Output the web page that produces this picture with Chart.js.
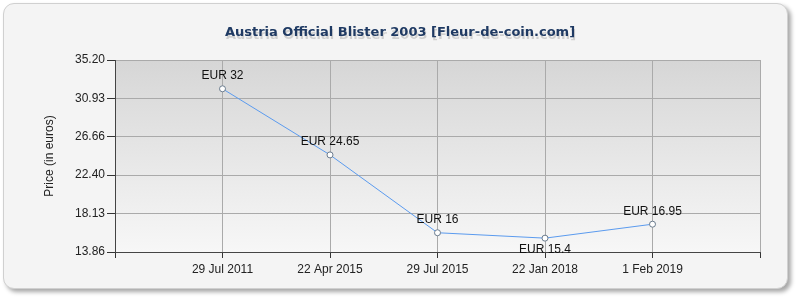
<!DOCTYPE html>
<html>
<head>
<meta charset="utf-8">
<script src="https://cdn.jsdelivr.net/npm/chart.js@4"></script>
<style>
  html, body { margin:0; padding:0; background:#fff; }
  #wrap { position:relative; width:800px; height:300px; }
  #panel { position:absolute; left:3px; top:3px; width:783px; height:284px;
    border:1px solid #d0d0d0; border-radius:11px; background:#f4f4f4;
    box-shadow:3px 3px 4px rgba(0,0,0,0.35); }
  #c { position:absolute; left:0; top:0; }
</style>
</head>
<body>
<div id="wrap">
  <div id="panel"></div>
  <canvas id="c" width="800" height="300"></canvas>
</div>
<script>
const titleText = 'Austria Official Blister 2003 [Fleur-de-coin.com]';
const yTitle = 'Price (in euros)';
// blank slots at both ends of the axis
const categories = ['', '29 Jul 2011', '22 Apr 2015', '29 Jul 2015', '22 Jan 2018', '1 Feb 2019', ''];
const prices = [null, 32, 24.65, 16, 15.4, 16.95, null];
const priceLabels = ['', 'EUR 32', 'EUR 24.65', 'EUR 16', 'EUR 15.4', 'EUR 16.95', ''];
const labelBelow = [false, false, false, false, true, false, false];
const yTicks = [13.86, 18.13, 22.40, 26.66, 30.93, 35.20];

const font = '"Liberation Sans", Arial, sans-serif';

const decor = {
  id: 'decor',
  beforeDraw(chart) {
    const { ctx, chartArea: a } = chart;
    const g = ctx.createLinearGradient(0, a.top, 0, a.bottom);
    g.addColorStop(0, '#d6d6d6');
    g.addColorStop(1, '#f7f7f7');
    ctx.save();
    ctx.fillStyle = g;
    ctx.fillRect(a.left, a.top, a.right - a.left, a.bottom - a.top);
    ctx.restore();
  },
  afterDraw(chart) {
    const { ctx, chartArea: a } = chart;
    ctx.save();
    ctx.font = 'bold 13px "DejaVu Sans", Verdana, sans-serif';
    ctx.textAlign = 'center';
    ctx.textBaseline = 'middle';
    ctx.fillStyle = 'rgba(0,0,0,0.15)';
    ctx.fillText(titleText, 401, 36);
    ctx.fillStyle = '#1f3a63';
    ctx.fillText(titleText, 400, 33);

    ctx.font = '12px ' + font;
    ctx.fillStyle = '#222';
    ctx.translate(50, (a.top + a.bottom) / 2);
    ctx.rotate(-Math.PI / 2);
    ctx.fillText(yTitle, 0, 0);
    ctx.restore();

    const meta = chart.getDatasetMeta(0);
    ctx.save();
    ctx.font = '12px ' + font;
    ctx.fillStyle = '#111';
    ctx.textAlign = 'center';
    ctx.textBaseline = 'middle';
    meta.data.forEach((p, i) => {
      if (prices[i] == null) return;
      ctx.fillText(priceLabels[i], p.x, labelBelow[i] ? p.y + 12 : p.y - 13);
    });
    ctx.restore();
  }
};

new Chart(document.getElementById('c'), {
  type: 'line',
  data: {
    labels: categories,
    datasets: [{
      data: prices,
      borderColor: '#5b9bef',
      borderWidth: 1,
      pointBackgroundColor: '#ffffff',
      pointBorderColor: '#6b7c8e',
      pointBorderWidth: 1,
      pointRadius: 3,
      tension: 0,
      spanGaps: false
    }]
  },
  options: {
    responsive: false,
    animation: false,
    layout: { padding: { top: 60, right: 40, left: 0, bottom: 0 } },
    plugins: { legend: { display: false }, tooltip: { enabled: false } },
    scales: {
      x: {
        offset: false,
        afterFit: s => { s.height = 48; },
        grid: { color: '#aaaaaa', tickColor: '#333', tickLength: 6 },
        border: { color: '#444' },
        ticks: { color: '#222', font: { family: font, size: 12 }, padding: 4, maxRotation: 0, autoSkip: false }
      },
      y: {
        min: yTicks[0],
        max: yTicks[yTicks.length - 1],
        afterBuildTicks: s => { s.ticks = yTicks.map(v => ({ value: v })); },
        afterFit: s => { s.width = 115; },
        grid: { color: '#aaaaaa', tickColor: '#333', tickLength: 8 },
        border: { color: '#444' },
        ticks: { color: '#222', font: { family: font, size: 12 }, padding: 2,
          callback: v => v.toFixed(2) }
      }
    }
  },
  plugins: [decor]
});
</script>
</body>
</html>
